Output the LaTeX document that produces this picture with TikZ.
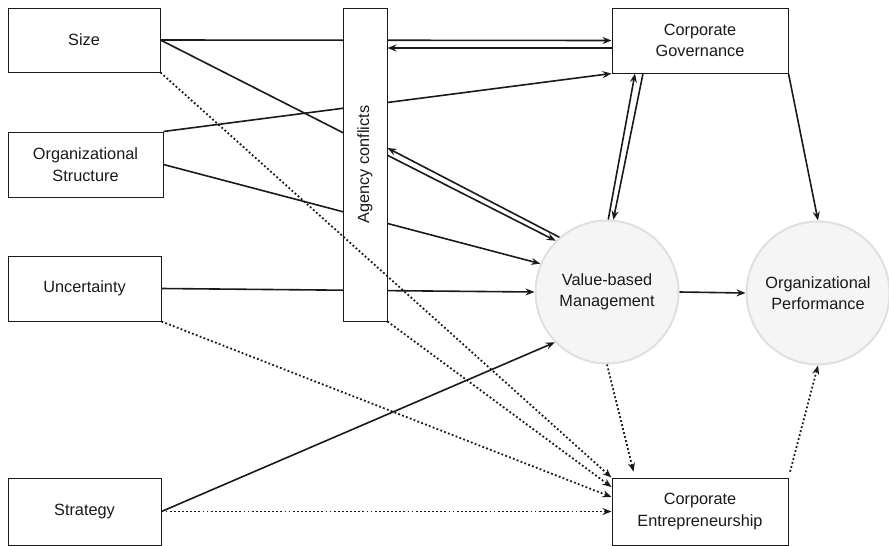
\documentclass[tikz,border=0pt]{standalone}
\usepackage{fontspec}
\setmainfont{Liberation Sans}
\usetikzlibrary{arrows.meta}
\pgfdeclarelayer{bg}
\pgfsetlayers{bg,main}
\definecolor{ink}{HTML}{1A1A1A}
\definecolor{circfill}{HTML}{F5F5F5}
\definecolor{circline}{HTML}{E0E0E0}
\begin{document}
\begin{tikzpicture}[x=1pt,y=-1pt,
  lbl/.style={font=\fontsize{16.3}{21.5}\selectfont, text=ink, align=center},
  boxnode/.style={lbl, draw=ink, line width=1pt, fill=white, inner sep=0pt},
  circnode/.style={lbl, circle, draw=circline, line width=2pt, fill=circfill, inner sep=0pt, minimum size=143pt},
  tip/.style={-{Stealth[length=9pt,width=7pt,inset=3pt]}},
  solidarrow/.style={tip, draw=ink, line width=1.6pt},
  dotarrow/.style={tip, draw=ink, line width=1.8pt, dash pattern=on 1.8pt off 2.3pt},
]
\useasboundingbox (0,0) rectangle (889,546);

% left boxes
\node[boxnode, minimum width=152pt, minimum height=64pt] (size) at (84,40) {Size};
\node[boxnode, minimum width=155pt, minimum height=65pt] (orgs) at (85.5,164.5) {Organizational\\Structure};
\node[boxnode, minimum width=153pt, minimum height=65pt] (unc) at (84.5,288.5) {Uncertainty};
\node[boxnode, minimum width=153pt, minimum height=67pt] (strat) at (84.5,511.5) {Strategy};

% agency conflicts
\node[boxnode, minimum width=44pt, minimum height=313pt] (agency) at (365,164.5) {};
\node[lbl, rotate=90] (agencylabel) at (agency.center) {Agency conflicts};

% right boxes
\node[boxnode, minimum width=176pt, minimum height=65pt] (cg) at (700,40.5) {Corporate\\Governance};
\node[boxnode, minimum width=176pt, minimum height=67pt] (ce) at (700,511.5) {Corporate\\Entrepreneurship};

% circles
\node[circnode] (vbm) at (607,292) {Value-based\\Management};
\node[circnode] (op) at (818,293) {Organizational\\Performance};

% solid lines passing behind the agency box
\begin{pgfonlayer}{bg}
\draw[solidarrow] (size.east) -- (cg.west);
\draw[solidarrow] (size.east) -- (vbm.135);
\draw[solidarrow] (orgs.north east) -- (cg.south west);
\draw[solidarrow] (orgs.east) -- (vbm.157);
\draw[solidarrow] (unc.east) -- (vbm.west);
\end{pgfonlayer}

% other solid connectors
\draw[solidarrow] (cg.west |- 0,48) -- (agency.east |- 0,48);
\draw[solidarrow] (vbm.131) -- (agency.east |- 0,148);
\draw[solidarrow] (strat.east) -- (vbm.224);
\draw[solidarrow] (vbm.89) -- (635,0 |- cg.south);
\draw[solidarrow] (643,0 |- cg.south) -- (vbm.85);
\draw[solidarrow] (cg.south east) -- (op.north);
\draw[solidarrow] (vbm.east) -- (op.west);

% dotted connectors
\draw[dotarrow] (size.south east) -- (ce.north west);
\draw[dotarrow] (agency.south east) -- (ce.west |- 0,487);
\draw[dotarrow] (unc.south east) -- (ce.west |- 0,497);
\draw[dotarrow] (strat.east) -- (ce.west);
\draw[dotarrow, shorten >=6pt] (vbm.south) -- (635,0 |- ce.north);
\draw[dotarrow, shorten <=6pt] (ce.north east) -- (op.south);
\end{tikzpicture}
\end{document}
